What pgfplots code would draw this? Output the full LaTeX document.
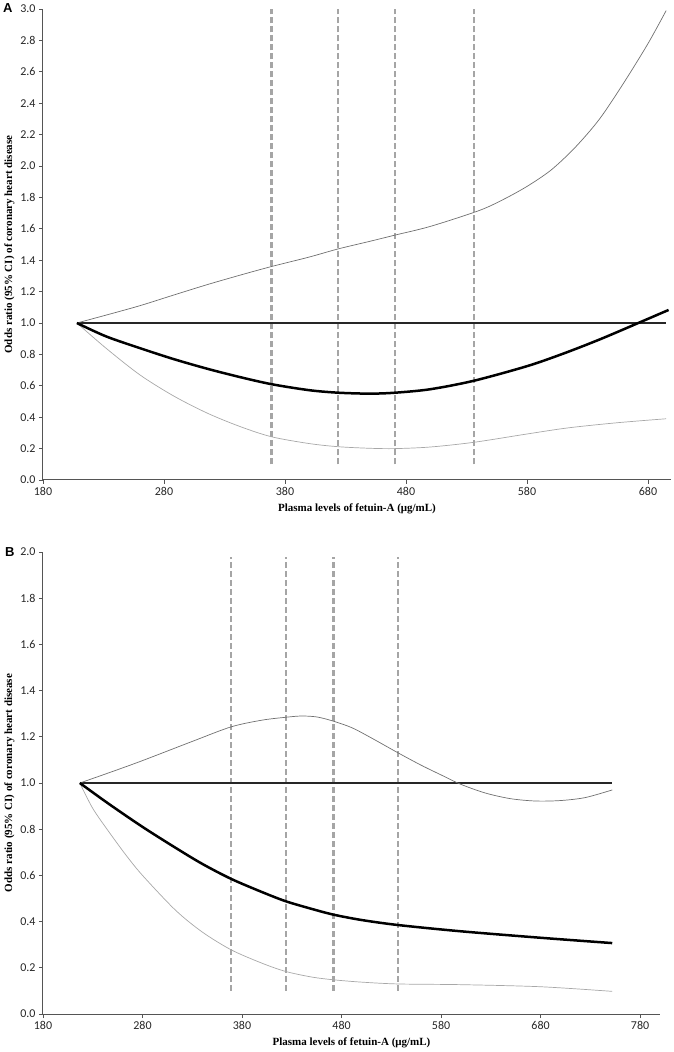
\documentclass[border=0pt]{standalone}
\usepackage{fontspec}
\setmainfont{Liberation Serif}
\newfontfamily\tickfont{Carlito}
\newfontfamily\letterfont{Liberation Sans}
\usepackage{pgfplots}
\pgfplotsset{compat=1.18}
\definecolor{axgray}{HTML}{555555}
\definecolor{dashgray}{HTML}{A5A5A5}
\definecolor{upgray}{HTML}{707070}
\definecolor{lowgray}{HTML}{A8A8A8}
\pgfplotsset{
  myaxis/.style={
    scale only axis,
    axis x line*=bottom, axis y line*=left,
    axis line style={axgray, line width=1pt},
    tick align=outside, major tick length=4pt,
    tick style={axgray, line width=0.8pt},
    /pgf/number format/assume math mode=true,
    ticklabel style={font=\tickfont\fontsize{12}{13}\selectfont, text=black!85},
    yticklabel style={/pgf/number format/.cd, fixed, fixed zerofill, precision=1},
    xticklabel style={/pgf/number format/.cd, fixed, 1000 sep={}},
    xlabel={\bfseries Plasma levels of fetuin-A (μg/mL)},
    ylabel={\bfseries Odds ratio (95\% CI) of coronary heart disease},
    label style={font=\fontsize{11}{12}\selectfont},
    xlabel style={yshift=-1pt},
    ylabel style={yshift=-1pt},
    clip=false,
  },
  dashv/.style={dashgray, line width=2.4pt, dash pattern=on 6pt off 3pt},
  refl/.style={black!85, line width=1.1pt},
  thick/.style={black, line width=2.5pt, smooth},
  up/.style={upgray, line width=0.7pt, smooth},
  low/.style={lowgray, line width=0.7pt, smooth},
}
\begin{document}
\begin{tikzpicture}[x=1pt,y=1pt]
\useasboundingbox (0,0) rectangle (674,1052);
% Panel A
\begin{axis}[myaxis, at={(43pt,572pt)}, anchor=south west,
  width=628pt, height=471pt,
  xmin=180, xmax=699, ymin=0, ymax=3.0,
  xtick={180,280,380,480,580,680},
  ytick={0,0.2,0.4,0.6,0.8,1.0,1.2,1.4,1.6,1.8,2.0,2.2,2.4,2.6,2.8,3.0}]
\addplot[dashv] coordinates {(369,0.1) (369,3.0)};
\addplot[dashv] coordinates {(424,0.1) (424,3.0)};
\addplot[dashv] coordinates {(471,0.1) (471,3.0)};
\addplot[dashv] coordinates {(536,0.1) (536,3.0)};
\addplot[refl] coordinates {(208,1.0) (695,1.0)};
\addplot[up] coordinates {(208,1.0) (232,1.05) (260,1.11) (288,1.178) (316,1.245) (343,1.305) (369,1.36) (400,1.42) (424,1.472) (450,1.52) (471,1.56) (500,1.615) (540,1.715) (560,1.785) (580,1.87) (600,1.975) (620,2.12) (640,2.30) (660,2.53) (680,2.78) (695,2.99)};
\addplot[low] coordinates {(208,1.0) (232,0.84) (260,0.67) (288,0.535) (316,0.425) (343,0.34) (369,0.275) (400,0.232) (424,0.212) (450,0.202) (471,0.20) (500,0.21) (536,0.24) (580,0.293) (614,0.332) (655,0.365) (695,0.39)};
\addplot[thick] coordinates {(208,1.0) (232,0.915) (260,0.84) (288,0.77) (316,0.708) (343,0.655) (369,0.61) (400,0.572) (424,0.556) (450,0.550) (471,0.556) (500,0.578) (536,0.632) (580,0.725) (610,0.805) (640,0.895) (672,1.0) (697,1.083)};
\end{axis}
\node[anchor=north west, inner sep=0pt, font=\letterfont\bfseries\fontsize{13}{13}\selectfont] at (3,1049) {A};
% Panel B
\begin{axis}[myaxis, at={(43pt,38pt)}, anchor=south west,
  width=617pt, height=462pt,
  xmin=180, xmax=800, ymin=0, ymax=2.0,
  xtick={180,280,380,480,580,680,780},
  ytick={0,0.2,0.4,0.6,0.8,1.0,1.2,1.4,1.6,1.8,2.0}]
\addplot[dashv] coordinates {(369,0.1) (369,1.98)};
\addplot[dashv] coordinates {(424,0.1) (424,1.98)};
\addplot[dashv] coordinates {(472,0.1) (472,1.98)};
\addplot[dashv] coordinates {(537,0.1) (537,1.98)};
\addplot[refl] coordinates {(217,1.0) (752,1.0)};
\addplot[up] coordinates {(217,1.0) (250,1.05) (280,1.097) (330,1.18) (369,1.243) (400,1.272) (425,1.285) (440,1.29) (455,1.286) (470,1.27) (490,1.24) (510,1.195) (537,1.13) (560,1.077) (580,1.035) (600,0.994) (625,0.956) (650,0.932) (675,0.922) (700,0.924) (725,0.937) (752,0.97)};
\addplot[low] coordinates {(217,1.0) (230,0.89) (246,0.79) (263,0.69) (280,0.60) (313,0.45) (340,0.355) (369,0.278) (400,0.22) (424,0.184) (450,0.16) (472,0.148) (500,0.138) (537,0.13) (600,0.127) (680,0.118) (752,0.098)};
\addplot[thick] coordinates {(217,1.0) (246,0.91) (280,0.81) (313,0.72) (340,0.65) (369,0.585) (400,0.528) (424,0.488) (450,0.455) (472,0.43) (500,0.407) (537,0.385) (600,0.358) (680,0.33) (752,0.307)};
\end{axis}
\node[anchor=north west, inner sep=0pt, font=\letterfont\bfseries\fontsize{13}{13}\selectfont] at (5,505) {B};
\end{tikzpicture}
\end{document}
